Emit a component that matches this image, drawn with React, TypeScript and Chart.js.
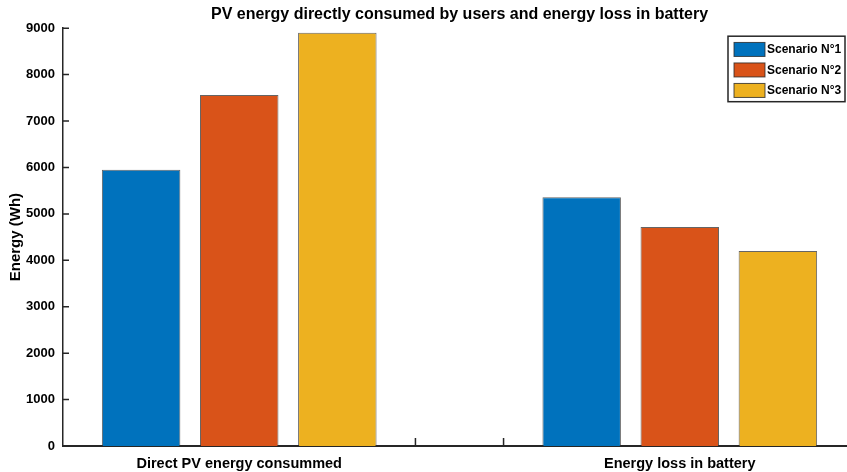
import React, { useEffect, useRef } from "react";
import { Chart, registerables } from "chart.js";

Chart.register(...registerables);

const categories = ["Direct PV energy consummed", "Energy loss in battery"];
const categoryPositions = [1, 2];
const minorTicks = [1, 1.4, 1.6, 2];
const seriesNames = ["Scenario N°1", "Scenario N°2", "Scenario N°3"];
const scenario1 = [5950, 5360];
const scenario2 = [7560, 4720];
const scenario3 = [8900, 4200];
const seriesColors = ["#0072BD", "#D95319", "#EDB120"];
const yTicks = [0, 1000, 2000, 3000, 4000, 5000, 6000, 7000, 8000, 9000];

const AXIS = "#262626";
const FONT = "'Liberation Sans', Arial, sans-serif";

const inwardTicks = {
  id: "inwardTicks",
  beforeDatasetsDraw(chart: any) {
    const { ctx, chartArea, scales } = chart;
    ctx.save();
    ctx.strokeStyle = AXIS;
    ctx.lineWidth = 1.5;
    ctx.beginPath();
    for (const v of yTicks) {
      const y = scales.y.getPixelForValue(v);
      ctx.moveTo(chartArea.left, y);
      ctx.lineTo(chartArea.left + 6, y);
    }
    for (const v of minorTicks) {
      const x = scales.x.getPixelForValue(v);
      ctx.moveTo(x, chartArea.bottom);
      ctx.lineTo(x, chartArea.bottom - 8);
    }
    ctx.stroke();
    ctx.restore();
  },
};

const boxLegend = {
  id: "boxLegend",
  afterDraw(chart: any) {
    const { ctx, chartArea } = chart;
    const right = chartArea.right - 11;
    const left = right - 117;
    const top = chartArea.top + 8;
    const rowH = 20.5;
    const n = chart.data.datasets.length;
    ctx.save();
    ctx.fillStyle = "#ffffff";
    ctx.fillRect(left, top, right - left, rowH * n + 4);
    ctx.strokeStyle = AXIS;
    ctx.lineWidth = 1.5;
    ctx.strokeRect(left, top, right - left, rowH * n + 4);
    ctx.font = `bold 12px ${FONT}`;
    ctx.textBaseline = "middle";
    chart.data.datasets.forEach((ds: any, i: number) => {
      const cy = top + 3 + rowH * i + rowH / 2;
      ctx.fillStyle = ds.backgroundColor;
      ctx.fillRect(left + 6, cy - 7, 31, 14);
      ctx.strokeStyle = "rgba(40,40,40,0.8)";
      ctx.lineWidth = 1;
      ctx.strokeRect(left + 6, cy - 7, 31, 14);
      ctx.fillStyle = "#000";
      ctx.fillText(ds.label, left + 39, cy + 0.5);
    });
    ctx.restore();
  },
};

export default function App() {
  const ref = useRef<HTMLCanvasElement>(null);
  useEffect(() => {
    document.body.style.margin = "0";
    document.body.style.overflow = "hidden";
    const series = [scenario1, scenario2, scenario3];
    const chart = new Chart(ref.current!, {
      type: "bar",
      data: {
        datasets: series.map((vals, s) => ({
          label: seriesNames[s],
          data: vals.map((v, i) => ({ x: categoryPositions[i], y: v })),
          backgroundColor: seriesColors[s],
          borderColor: "rgba(50,50,50,0.75)",
          borderWidth: 1,
          categoryPercentage: 0.668,
          barPercentage: 0.8,
        })),
      },
      options: {
        animation: false,
        responsive: false,
        layout: { padding: { top: 0, left: 0, right: 0, bottom: 0 } },
        plugins: {
          legend: { display: false },
          tooltip: { enabled: false },
          title: {
            display: true,
            text: "PV energy directly consumed by users and energy loss in battery",
            color: "#000",
            font: { family: FONT, size: 16, weight: "bold" },
            padding: { top: 5, bottom: 4 },
            fullSize: false,
          },
        },
        scales: {
          x: {
            type: "linear",
            offset: false,
            min: 0.6,
            max: 2.4,
            afterBuildTicks: (scale: any) => {
              scale.ticks = categoryPositions.map((v) => ({ value: v }));
            },
            afterFit: (scale: any) => {
              scale.height = 26;
            },
            grid: { display: false, drawTicks: false, offset: false },
            border: { display: true, color: AXIS, width: 2 },
            ticks: {
              color: "#000",
              padding: 9,
              maxRotation: 0,
              font: { family: FONT, size: 14.5, weight: "bold" },
              callback: (v: any) => {
                const i = categoryPositions.indexOf(Number(v));
                return i >= 0 ? categories[i] : "";
              },
            },
          },
          y: {
            min: 0,
            max: 9000,
            afterBuildTicks: (scale: any) => {
              scale.ticks = yTicks.map((v) => ({ value: v }));
            },
            afterFit: (scale: any) => {
              scale.width = 63;
            },
            grid: { display: false, drawTicks: false },
            border: { display: true, color: AXIS, width: 1.5 },
            ticks: {
              color: "#000",
              padding: 8,
              font: { family: FONT, size: 13, weight: "bold" },
              callback: (v: any) => String(v),
            },
            title: {
              display: true,
              text: "Energy (Wh)",
              color: "#000",
              padding: { top: 7, bottom: 0 },
              font: { family: FONT, size: 15, weight: "bold" },
            },
          },
        },
      },
      plugins: [inwardTicks, boxLegend],
    } as any);
    return () => chart.destroy();
  }, []);
  return (
    <div style={{ width: 847, height: 472, overflow: "hidden", background: "#fff" }}>
      <canvas ref={ref} width={856} height={472} style={{ display: "block" }} />
    </div>
  );
}
